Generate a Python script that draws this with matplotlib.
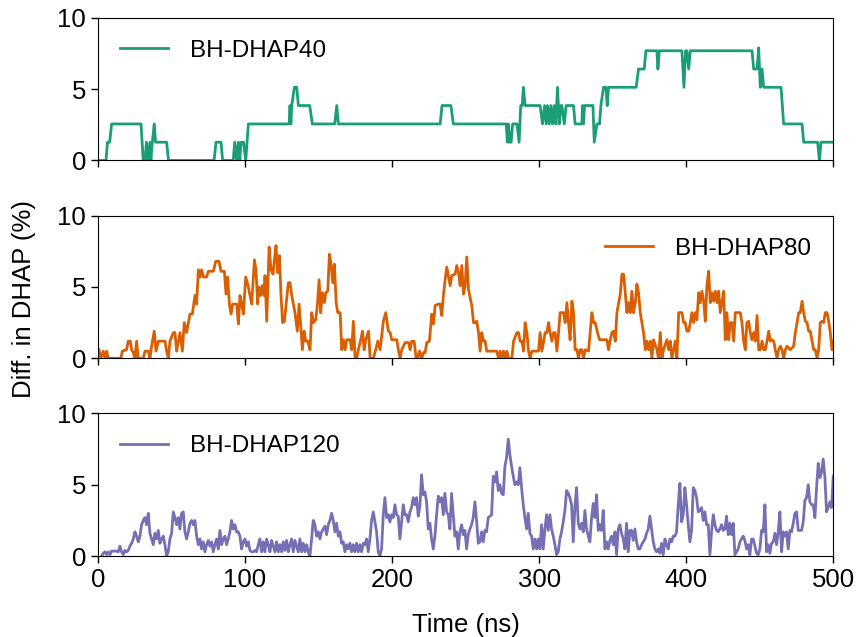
import numpy as np
import matplotlib
matplotlib.use("Agg")
import matplotlib.pyplot as plt

plt.rcParams['font.family'] = ['Liberation Sans', 'DejaVu Sans']

# BH-DHAP40 (step-like trace), time in ns and value in %
t40 = [0, 5.5, 6.5, 8, 9.3, 29.3, 30.8, 32, 33, 34, 35.4, 36, 37, 38.3, 39.2, 46.7, 48,
       79, 80.3, 83.7, 84.8, 92, 93, 94.3, 95.5, 96.5, 97.3, 99, 100.5, 102.3,
       130, 130.6, 131.2, 131.8, 133.6, 135.2, 136.3, 144, 145.8, 161, 162.4, 163.5,
       232.7, 234, 240, 241.7, 277.6, 278.4, 279.2, 280, 281, 282, 285, 286.4, 287.5,
       288.5, 289.3, 290.5, 300.7, 302.3, 303.7, 304.8, 305.7, 306.9, 308.0, 309.1,
       310.3, 311.4, 312.5, 313.7, 314.8, 315.5, 317.1, 318.4, 323.4, 324.5, 329.1,
       329.5, 330.2, 330.9, 336.6, 337.5, 339.3, 341.1, 342, 343.8, 345.4, 346.3,
       347.2, 366, 367.6, 371.5, 372.6, 380.1, 380.8, 381.7, 397.1, 398.5, 399.6,
       400.5, 401.7, 402.8, 444.8, 445.9, 448.2, 449.3, 450.4, 451.6, 452.7, 464.5,
       466.3, 478.8, 479.9, 489.4, 490.6, 491.7, 500]
v40 = [0, 0, 1.28, 1.28, 2.56, 2.56, 0, 0, 1.28, 0, 1.28, 0, 1.28, 2.56, 1.28, 1.28, 0,
       0, 1.28, 1.28, 0, 0, 1.28, 0, 1.28, 0, 1.28, 1.28, 0, 2.56,
       2.56, 3.85, 2.56, 3.85, 5.13, 5.13, 3.85, 3.85, 2.56, 2.56, 3.85, 2.56,
       2.56, 3.85, 3.85, 2.56, 2.56, 1.28, 2.56, 1.28, 1.28, 2.56, 2.56, 1.28, 3.85,
       3.85, 5.13, 3.85, 3.85, 2.56, 3.85, 2.56, 3.85, 2.56, 3.85, 2.56,
       3.85, 2.56, 5.13, 2.56, 3.85, 3.85, 2.56, 3.85, 3.85, 2.56, 2.56,
       3.85, 2.56, 3.85, 3.85, 1.28, 2.56, 2.56, 3.85, 5.13, 5.13, 3.85,
       5.13, 5.13, 6.41, 6.41, 7.69, 7.69, 6.41, 7.69, 7.69, 5.13, 7.69,
       7.69, 6.41, 7.69, 7.69, 6.41, 6.41, 7.9, 5.13, 6.41, 5.13, 5.13,
       2.56, 2.56, 1.28, 1.28, 0, 1.28, 1.28]

# BH-DHAP80
t80 = [0.7, 2.0, 3.6, 4.8, 5.9, 7.0, 15.6, 16.6, 19.5, 20.6, 22.0, 22.9, 24.0, 25.2,
       26.3, 27.4, 30.9, 32.0, 34.2, 35.4, 36.5, 38.3, 39.5, 41.1, 45.6, 46.7, 47.9,
       49.0, 51.3, 52.4, 53.5, 54.7, 55.8, 57.4, 58.7, 60.3, 61.5, 62.6, 64.2, 66.0,
       67.1, 68.3, 69.4, 70.5, 71.7, 73.9, 75.1, 78.5, 80.1, 82.3, 83.7, 86.0, 87.1,
       88.2, 89.4, 90.5, 91.6, 94.4, 95.5, 96.6, 97.8, 98.9, 100.5, 102.3, 103.4,
       104.6, 106.4, 107.5, 108.6, 109.5, 110.7, 111.8, 113.0, 113.6, 114.8, 116.4,
       117.7, 119.1, 120.0, 121.1, 122.2, 123.4, 124.5, 125.6, 126.8, 127.9, 129.5,
       130.6, 131.8, 134.0, 135.6, 136.8, 137.9, 139.0, 140.2, 141.3, 142.7, 144.2,
       145.4, 146.5, 148.1, 149.2, 150.4, 151.5, 152.6, 154.0, 154.9, 156.3, 157.4,
       158.5, 159.7, 160.8, 162.0, 163.1, 164.7, 165.8, 166.9, 168.1, 169.2, 171.5,
       172.6, 173.7, 174.9, 176.0, 177.1, 178.7, 179.9, 181.0, 182.1, 184.0, 185.1,
       187.3, 188.9, 190.3, 191.9, 194.1, 195.7, 197.5, 198.7, 199.8, 203.2, 204.3,
       205.5, 206.6, 208.9, 211.2, 212.3, 213.4, 215.0, 216.4, 217.5, 218.6, 220.2,
       221.4, 222.5, 223.6, 225.4, 227.0, 228.2, 229.3, 231.6, 232.7, 233.8, 235.0,
       236.1, 237.2, 238.4, 239.5, 240.6, 242.9, 244.0, 245.2, 246.3, 247.4, 248.6,
       249.7, 250.8, 252.0, 254.2, 255.4, 256.5, 257.6, 258.8, 259.9, 261.0, 262.2,
       263.3, 264.4, 271.2, 272.4, 273.5, 274.6, 275.8, 276.9, 278.1, 279.2, 281.5,
       282.6, 284.9, 286.0, 287.1, 288.3, 289.4, 290.5, 291.7, 292.8, 293.9, 295.1,
       299.6, 300.7, 301.9, 304.1, 305.3, 306.4, 307.5, 308.7, 309.8, 310.9, 312.1,
       313.2, 314.3, 316.6, 317.7, 318.9, 320.0, 321.1, 322.3, 323.4, 324.5, 325.7,
       326.8, 327.9, 329.1, 330.2, 331.3, 333.6, 334.7, 335.9, 337.0, 338.2, 339.7,
       341.1, 346.1, 347.2, 348.4, 349.5, 350.6, 351.8, 352.9, 355.2, 356.3, 357.4,
       358.6, 359.7, 360.8, 362.0, 363.1, 364.2, 365.4, 366.5, 367.6, 368.8, 369.9,
       371.0, 372.2, 373.3, 374.4, 375.6, 376.7, 377.8, 380.1, 381.2, 382.4, 383.5,
       384.6, 386.9, 388.1, 389.2, 390.3, 392.6, 393.7, 394.9, 397.1, 398.3, 399.4,
       400.5, 401.7, 402.8, 403.9, 405.1, 406.2, 407.3, 408.5, 409.6, 410.7, 411.9,
       413.0, 414.1, 415.3, 416.4, 417.5, 418.7, 419.8, 420.9, 422.1, 423.2, 424.3,
       425.5, 426.6, 427.7, 428.9, 430.0, 431.1, 432.3, 433.4, 436.8, 437.9, 439.1,
       440.2, 441.3, 442.5, 443.6, 444.7, 445.9, 447.0, 448.2, 449.3, 450.4, 451.6,
       452.7, 453.8, 455.0, 456.1, 457.2, 458.4, 459.5, 460.6, 461.8, 462.9, 464.0,
       465.2, 466.3, 467.4, 468.6, 470.8, 473.1, 474.2, 475.4, 476.5, 477.6, 478.8,
       479.9, 481.0, 482.2, 483.3, 484.4, 485.6, 486.7, 487.8, 489.0, 490.1, 491.2,
       492.4, 493.5, 494.6, 495.8, 496.9, 498.0, 499.2, 499.9]
v80 = [0.6, 0, 0.5, 0, 0.5, 0, 0, 0.5, 0.6, 1.2, 1.2, 0.6, 0.4, 0,
       1.2, 0, 0, 0.5, 0.5, 0, 0.85, 1.9, 0.5, 1.2, 1.2, 0.5, 0,
       1.2, 1.8, 1.8, 0.5, 1.2, 1.8, 0.5, 2.5, 1.8, 2.5, 3.1, 3.1, 4.4,
       3.8, 6.2, 5.7, 6.2, 5.7, 5.7, 6.1, 6.1, 6.8, 6.8, 6.1, 6.1, 4.5,
       5.7, 3.8, 3.1, 3.8, 3.8, 2.4, 4.4, 3.8, 3.1, 5.7, 5.0, 4.4,
       3.8, 6.9, 6.2, 3.8, 5.0, 4.4, 5.1, 4.4, 5.8, 2.6, 7.8,
       6.2, 5.9, 6.9, 7.9, 6.0, 7.2, 4.4, 2.5, 2.6, 3.7, 5.3,
       5.3, 4.4, 3.2, 1.9, 3.8, 2.3, 0.6, 1.9, 1.2, 1.2, 0.6,
       3.2, 2.5, 2.7, 3.7, 5.5, 3.2, 4.6, 3.9, 4.6, 4.7, 7.3,
       6.6, 5.3, 6.6, 3.9, 3.2, 3.2, 0.6, 1.3, 0.6, 1.3, 1.3,
       0.6, 2.6, 0, 0, 0.6, 1.3, 1.9, 0.6, 1.3, 1.9, 0,
       0, 0.6, 1.2, 0.6, 2.6, 3.2, 1.9, 1.8, 1.3, 1.3, 0.6,
       0, 0.6, 1.1, 1.1, 0.6, 1.2, 1.2, 0, 0, 0.5, 0,
       0.4, 0.4, 1.1, 1.2, 3.1, 2.4, 3.7, 3.8, 3.8, 3.0, 4.5,
       5.5, 6.4, 5.7, 5.1, 5.8, 5.9, 6.5, 6.0, 5.1, 6.5, 4.5,
       5.1, 7.1, 4.8, 3.7, 2.5, 2.5, 2.6, 1.8, 0.5, 1.8, 1.2,
       1.2, 0.5, 0.5, 0, 0.5, 0, 0.5, 0, 0.5, 0, 0,
       1.2, 1.8, 1.8, 1.2, 1.2, 0.5, 2.5, 1.8, 0.5, 0, 0.5,
       0.5, 1.8, 0.5, 1.8, 1.8, 2.5, 1.8, 1.2, 1.8, 1.8, 0.5,
       1.8, 3.2, 3.2, 2.5, 3.9, 2.5, 1.3, 4.0, 3.2, 0.6, 0.6,
       0, 0.6, 0.6, 0, 0.6, 0.5, 1.8, 3.2, 2.5, 2.5, 1.8,
       1.3, 1.3, 0.6, 1.3, 1.8, 1.9, 1.2, 3.2, 4.5, 5.9, 5.9,
       4.6, 3.2, 3.9, 3.2, 4.7, 3.2, 3.9, 5.2, 4.6, 3.2, 2.5,
       1.8, 0.6, 1.2, 0.6, 1.2, 0, 1.3, 0.6, 0, 1.8, 0,
       0.6, 1.3, 0.6, 1.2, 0, 1.2, 0, 3.2, 3.2, 2.5, 2.5,
       1.9, 1.9, 2.5, 3.2, 2.5, 3.2, 2.7, 4.6, 3.9, 4.7, 4.0,
       2.6, 5.1, 6.1, 3.9, 4.6, 4.0, 4.7, 3.9, 4.7, 3.2, 3.9,
       4.7, 1.3, 3.2, 1.3, 2.5, 2.5, 1.2, 3.2, 3.2, 2.5, 1.2,
       0.6, 2.5, 2.6, 1.8, 1.3, 1.8, 1.2, 3.0, 0.6, 0.6, 1.2,
       0.6, 0.6, 1.2, 1.9, 1.2, 1.3, 1.2, 0.6, 0, 0.6, 0.85,
       0.6, 0, 0.6, 0.85, 0.6, 0.85, 1.8, 2.5, 3.2, 3.2, 4.0,
       3.2, 2.6, 2.5, 1.9, 1.9, 1.2, 0.6, 0.6, 0, 0.6, 2.5,
       2.6, 2.5, 3.2, 3.2, 2.6, 1.8, 0.6, 1.2]

# BH-DHAP120, read at even steps from 2.5 ns to 500 ns
v120 = [0, 0.2, 0.3, 0.1, 0.3, 0.1, 0.35, 0.35, 0.35, 0.35, 0.3, 0.7, 0.3, 0.1, 0.4,
        0.3, 0.4, 0.7, 0.9, 1.2, 1.7, 1.4, 1.0, 1.4, 2.2, 2.5,
        2.7, 2.2, 3.0, 1.6, 1.2, 0.8, 1.6, 1.2, 1.8, 0.9, 1.2, 1.4, 0.8, 0, 0.3,
        1.2, 1.6, 3.1, 2.7, 2.2, 2.7, 1.9, 3.0, 3.1, 1.7, 1.2, 1.7, 2.3, 2.5, 2.2,
        2.5, 1.4, 0.8, 1.2, 0.5, 1.0, 0.3, 0.8, 1.1, 0.7, 1.0, 0.3, 0.8, 1.2, 0.5,
        1.8, 0.8, 1.2, 1.4, 0.8, 1.2, 1.7, 2.5, 1.9, 2.2, 1.7, 1.7, 1.4, 0.5, 1.0,
        1.2, 0.7, 1.0, 0.4, 0.3, 0.3, 0.4, 0.3, 0.8, 1.2, 0.3, 1.0, 0.3, 1.2, 0.8,
        0.3, 1.1, 0.7, 0.3, 1.0, 0.3, 0.8, 0.3, 1.0, 0.4, 1.1, 0.3, 0.8, 1.2, 0.3,
        1.1, 0.7, 0.3, 1.2, 0.3, 0.9, 0.3, 0.8, 0.3, 0, 1.2, 2.5, 2.2, 1.4, 1.7,
        1.2, 1.7, 1.9, 2.1, 1.5, 2.2, 2.5, 3.0, 2.5, 1.7, 2.3, 1.4, 1.7, 0.9, 1.0,
        0.3, 0.8, 0.5, 0.9, 0.3, 0.8, 0.3, 0.9, 0.3, 0.8, 0.3, 0.9, 0.8, 1.2, 0.3,
        1.2, 2.5, 3.1, 2.4, 1.7, 0.3, 0, 0.5, 2.9, 4.1, 2.7, 2.9, 2.4, 2.9, 2.7,
        3.6, 2.9, 2.8, 1.2, 2.4, 3.6, 2.9, 2.9, 2.4, 3.1, 3.4, 4.1, 3.6, 4.1, 2.8,
        3.5, 5.7, 4.3, 4.5, 3.8, 1.9, 2.3, 1.2, 0.5, 1.4, 2.9, 4.2, 3.8, 4.1, 2.9,
        4.4, 3.1, 2.9, 1.9, 4.4, 2.9, 1.4, 1.7, 0.5, 1.7, 2.2, 1.5, 1.8, 0.5, 1.5,
        1.9, 2.2, 2.7, 3.8,
        2.5, 0.9, 1.0, 1.7, 1.0, 1.8, 1.7, 2.7, 2.8, 2.9, 5.6, 5.2, 5.9, 4.6, 5.0,
        4.4, 4.3, 6.3, 6.9, 8.2, 7.1, 6.3, 5.6, 5.0, 5.2, 5.0, 6.2, 4.8, 3.6, 2.7,
        1.9, 3.0, 1.6, 1.4, 0.5, 1.2, 0.5, 1.2, 0.5, 2.2, 0.5, 1.9, 2.9, 1.8, 2.9,
        1.9, 1.4, 0.8, 0.1, 0.3, 1.2, 1.7, 2.4, 3.2, 4.6, 4.4, 4.1, 3.6, 1.0, 3.5,
        4.8, 2.3, 1.9, 2.3, 1.7, 3.2, 1.9, 1.4, 1.0, 2.7, 3.7, 2.7, 4.3, 1.8, 2.2,
        1.8, 3.2, 0.5, 1.0, 0.5, 1.1, 1.4, 0.8, 1.7, 0.1, 1.9, 2.2, 1.6, 1.2, 0.5,
        2.3, 0.3, 1.8, 1.8, 1.1, 1.9, 1.0, 0.5, 0.5, 0.8, 1.0, 1.2, 1.6, 1.9, 2.8,
        1.9, 1.0, 0.5, 0.3, 0.5, 0.2, 0.9, 0.1, 1.2, 0.8, 0.5, 1.2, 1.0, 1.4, 1.4,
        1.7, 3.6, 5.1, 2.4, 2.9, 4.8, 3.6, 2.2, 1.0, 1.8, 4.8, 4.6, 4.1, 3.1, 3.2,
        3.4, 2.5, 3.1, 2.2, 2.2, 0.1, 1.7, 2.9, 2.2, 1.8, 1.7, 1.9, 2.2, 1.8, 1.9,
        2.8, 1.5, 2.3, 1.5, 2.3, 0.1, 0.3, 0.5, 1.0, 1.2, 1.4, 1.1, 0.5, 0.8, 0.1,
        1.2, 1.2, 0.7, 0.2, 0.1, 0.5, 1.8, 1.7, 3.6, 0.3, 0.8, 0.2, 0.9, 1.0, 1.6,
        0.8, 1.7, 3.1, 0.3, 1.7, 1.4, 1.7, 0.5, 1.8, 1.7, 2.3, 3.0, 3.1, 1.8, 1.8,
        1.8, 2.4, 3.9, 4.1, 5.0, 3.8, 3.6, 3.6, 2.7, 4.8, 6.5, 5.5, 5.9, 6.8, 5.5,
        3.1, 3.4, 3.8, 3.4, 5.6]
t120 = np.linspace(2.5, 500, len(v120))

series = [(t40, v40, "BH-DHAP40", "#1b9e77", "upper left"),
          (t80, v80, "BH-DHAP80", "#d95f02", "upper right"),
          (t120, v120, "BH-DHAP120", "#7570b3", "upper left")]

fig, axes = plt.subplots(3, 1, figsize=(8.59, 6.37), dpi=100, sharex=True)
fig.subplots_adjust(left=0.114, right=0.970, top=0.972, bottom=0.127, hspace=0.387)

for ax, (t, v, name, col, loc) in zip(axes, series):
    ax.plot(t, v, color=col, lw=2, label=name)
    ax.set_xlim(0, 500)
    ax.set_ylim(0, 10)
    ax.set_yticks([0, 5, 10])
    ax.set_xticks([0, 100, 200, 300, 400, 500])
    ax.tick_params(labelsize=18.5, direction="out", length=5, width=1)
    ax.legend(loc=loc, frameon=False, fontsize=17.5, handlelength=2.0,
              handletextpad=0.9)

axes[2].set_xlabel("Time (ns)", fontsize=18.5, labelpad=15)
fig.text(0.028, 0.53, "Diff. in DHAP (%)", rotation=90, fontsize=18.5,
         ha="center", va="center")

fig.savefig("out.png", dpi=100)
